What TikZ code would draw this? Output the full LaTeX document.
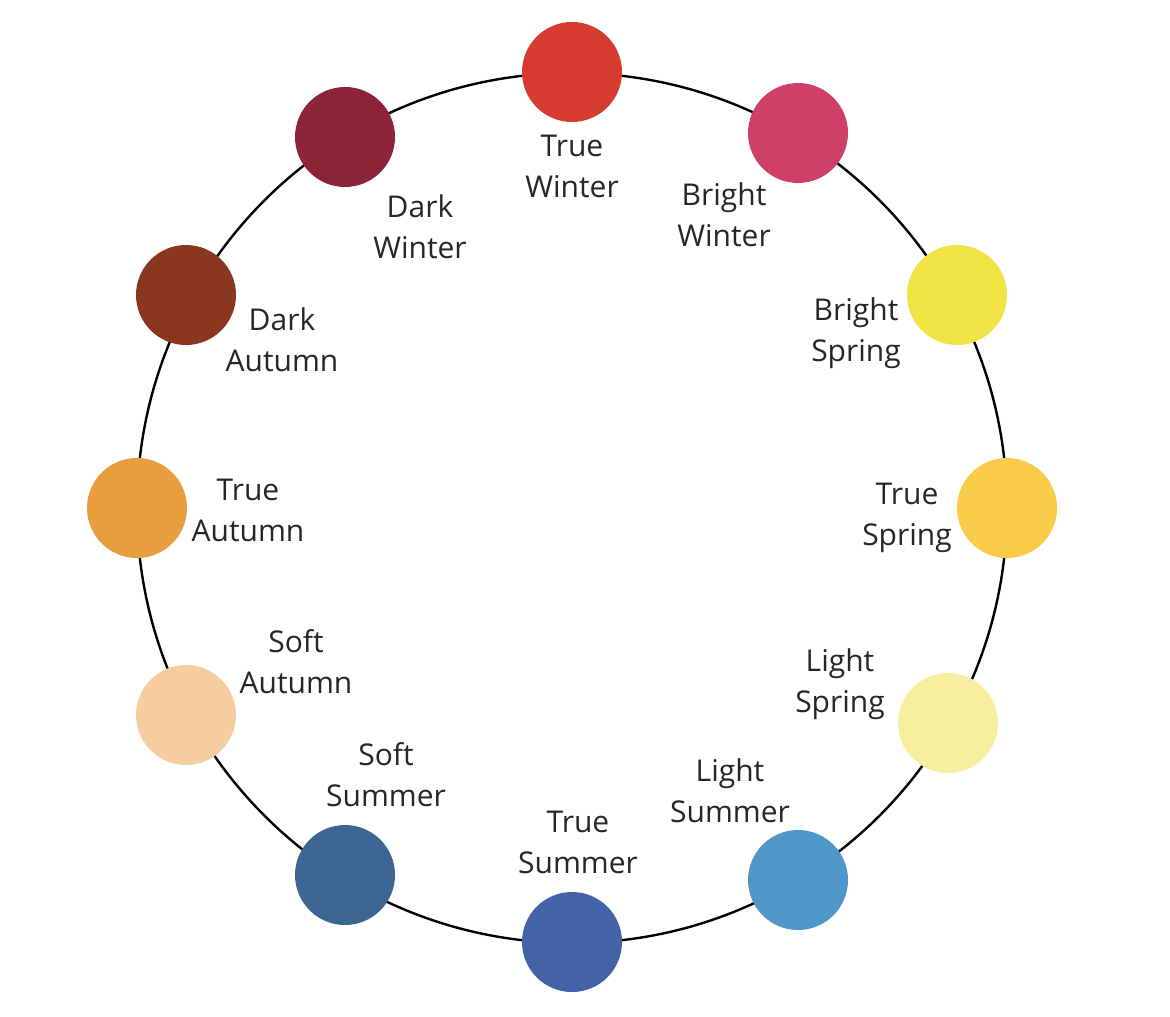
\documentclass[tikz,border=0pt]{standalone}
\usepackage{fontspec}
\setmainfont{Open Sans}
\definecolor{tw}{HTML}{D63B30}
\definecolor{bw}{HTML}{CF4068}
\definecolor{bs}{HTML}{F0E444}
\definecolor{ts}{HTML}{F8CB48}
\definecolor{ls}{HTML}{F6EFA0}
\definecolor{lsu}{HTML}{4E97C8}
\definecolor{tsu}{HTML}{4462A8}
\definecolor{ssu}{HTML}{3C6592}
\definecolor{sa}{HTML}{F5CDA0}
\definecolor{ta}{HTML}{E89E3E}
\definecolor{da}{HTML}{8B371F}
\definecolor{dw}{HTML}{8B2438}
\tikzset{
  swatch/.style={circle, minimum size=50pt, inner sep=0pt},
  season/.style={align=center, font=\fontsize{15}{20.5}\selectfont, text=black!85}
}
\begin{document}
\begin{tikzpicture}[x=0.5pt,y=-0.5pt]
  \useasboundingbox (0,0) rectangle (1170,1016);
  % wheel
  \coordinate (c) at (572,508);
  \draw[line width=1.2pt] (c) circle[radius=217.5pt];
  % swatches and names
  \foreach \n/\col/\x/\y/\lx/\ly/\txt in {
      tw/tw/572/72/572/166/True\\Winter,
      bw/bw/798/133/724/215/Bright\\Winter,
      bs/bs/957/295/856/333/Bright\\Spring,
      ts/ts/1007/508/907/518/True\\Spring,
      ls/ls/948/723/840/684/Light\\Spring,
      lsu/lsu/798/880/730/791/Light\\Summer,
      tsu/tsu/572/942/578/842/True\\Summer,
      ssu/ssu/345/875/386/775/Soft\\Summer,
      sa/sa/186/715/296/662/Soft\\Autumn,
      ta/ta/137/508/248/510/True\\Autumn,
      da/da/186/295/282/340/Dark\\Autumn,
      dw/dw/345/137/420/227/Dark\\Winter} {
    \node[swatch, fill=\col] (\n) at (\x,\y) {};
    \node[season] (\n-label) at (\lx,\ly) {\txt};
  }
\end{tikzpicture}
\end{document}
